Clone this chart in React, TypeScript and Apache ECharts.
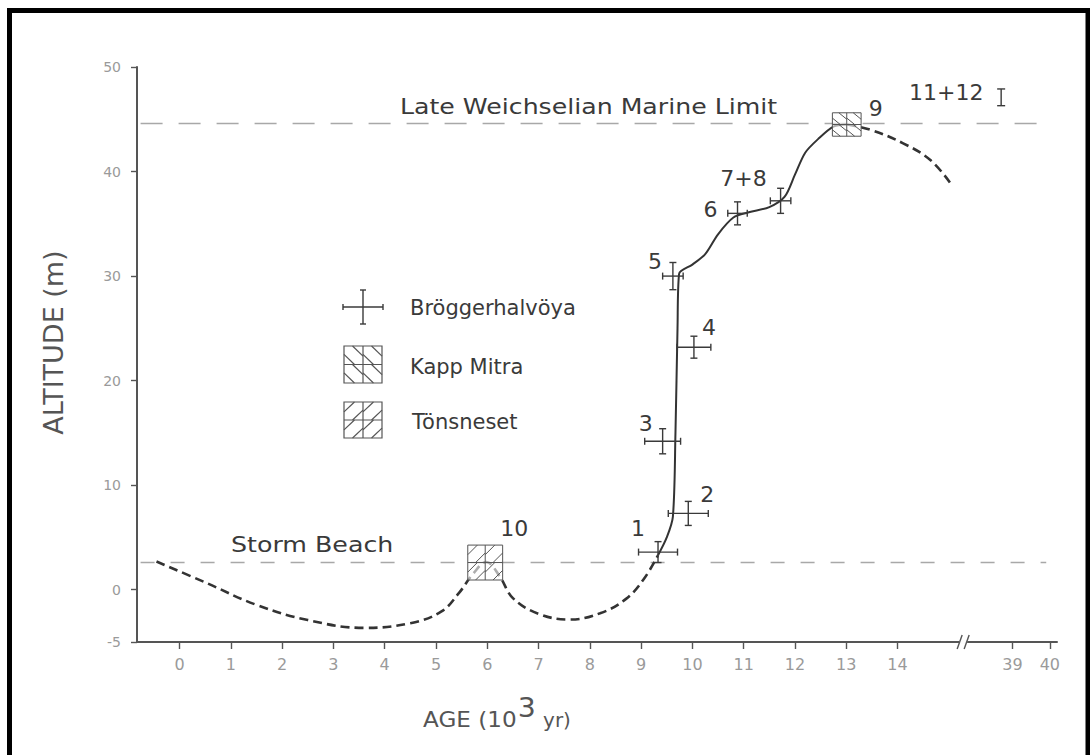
import React, { useEffect, useRef } from "react";
import * as echarts from "echarts";

// ---------- data ----------
const ageTicks = [0, 1, 2, 3, 4, 5, 6, 7, 8, 9, 10, 11, 12, 13, 14, 39, 40];
const altTicks = [-5, 0, 10, 20, 30, 40, 50];

// Bröggerhalvöya (crosses)
const brogLabels = ["1", "2", "3", "4", "5", "6", "7+8"];
const brogAge = [9.33, 9.92, 9.42, 10.03, 9.62, 10.88, 11.72];
const brogAlt = [3.6, 7.3, 14.2, 23.2, 30.0, 36.0, 37.2];
const brogAgeErr = [0.38, 0.39, 0.35, 0.33, 0.2, 0.19, 0.2];
const brogAltErr = [1.0, 1.15, 1.2, 1.05, 1.3, 1.1, 1.2];

// Kapp Mitra (hatched \)
const kappLabels = ["9"];
const kappAge = [13.01];
const kappAlt = [44.5];
const kappAgeErr = [0.28];
const kappAltErr = [1.12];

// Tönsneset (hatched /)
const tonsLabels = ["10"];
const tonsAge = [5.96];
const tonsAlt = [2.6];
const tonsAgeErr = [0.34];
const tonsAltErr = [1.67];

// old samples beyond the break
const oldLabels = ["11+12"];
const oldAge = [38.7];
const oldAlt = [47.1];
const oldAltErr = [0.8];

const stormBeachAlt = 2.6;
const marineLimitAlt = 44.6;

// sea-level curve
const curveDashLeftAge = [-0.45, 0.5, 1.5, 2.5, 3.6, 4.5, 5.1, 5.45, 5.72, 5.98, 6.24, 6.5, 7.0, 7.6, 8.2, 8.7, 9.05, 9.33];
const curveDashLeftAlt = [2.7, 0.7, -1.45, -2.9, -3.65, -3.2, -2.1, -0.3, 1.5, 2.65, 1.3, -0.8, -2.3, -2.85, -2.25, -0.9, 1.0, 3.3];
const curveSolidAge = [9.33, 9.5, 9.62, 9.67, 9.71, 9.74, 10.0, 10.25, 10.5, 10.8, 11.1, 11.5, 11.8, 12.0, 12.2, 12.45, 12.75, 13.02];
const curveSolidAlt = [3.3, 5.0, 7.0, 15, 25, 30.2, 31.1, 32.1, 34.0, 35.6, 36.1, 36.6, 37.6, 39.7, 41.8, 43.1, 44.3, 44.5];
const curveDashRightAge = [13.02, 13.47, 14.11, 14.64, 15.03];
const curveDashRightAlt = [44.5, 44.0, 42.7, 41.1, 38.9];

// ---------- layout helpers (broken axis) ----------
const AXIS_MIN = -0.83;
const AXIS_MAX = 17.11;
const BREAK_POS = 15.28;
const LINE_START = -0.76;
const LINE_END = 16.9;
const toAxis = (age: number) => (age <= 30 ? age : 16.24 + (age - 39) * 0.73);

const brogLabelOffset = [[-20, -24], [19, -19], [-17, -18], [15, -20], [-18, -15], [-27, -4], [-37, -22]];
const kappLabelOffset = [[29, -16]];
const tonsLabelOffset = [[29, -34]];
const oldLabelOffset = [[-55, -5]];

const FONT = "DejaVu Sans";
const INK = "#3a3a3a";
const GREY = "#9a9a9a";

const pair = (xs: number[], ys: number[]) => xs.map((x, i) => [toAxis(x), ys[i]]);

function labelText(x: number, y: number, text: string, size = 22) {
  return {
    type: "text",
    x,
    y,
    style: {
      text,
      fill: INK,
      fontSize: size,
      fontFamily: FONT,
      align: "center",
      verticalAlign: "middle",
      textAlign: "center",
      textVerticalAlign: "middle",
    },
  };
}

function crossRender(labels: string[], offsets: number[][]) {
  return (params: any, api: any) => {
    const a = api.value(0), h = api.value(1), ea = api.value(2), eh = api.value(3), i = api.value(4);
    const c = api.coord([a, h]);
    const l = api.coord([a - ea, h]);
    const r = api.coord([a + ea, h]);
    const t = api.coord([a, h + eh]);
    const b = api.coord([a, h - eh]);
    const cap = 3.5;
    const style = { stroke: INK, lineWidth: 1.4 };
    const ln = (x1: number, y1: number, x2: number, y2: number) => ({ type: "line", shape: { x1, y1, x2, y2 }, style });
    return {
      type: "group",
      children: [
        ln(l[0], c[1], r[0], c[1]),
        ln(c[0], t[1], c[0], b[1]),
        ln(l[0], c[1] - cap, l[0], c[1] + cap),
        ln(r[0], c[1] - cap, r[0], c[1] + cap),
        ln(c[0] - cap, t[1], c[0] + cap, t[1]),
        ln(c[0] - cap, b[1], c[0] + cap, b[1]),
        labelText(c[0] + offsets[i][0], c[1] + offsets[i][1], labels[i]),
      ],
    };
  };
}

function hatchBox(x0: number, y0: number, x1: number, y1: number, back: boolean, lw = 1) {
  const style = { stroke: "#555", lineWidth: lw };
  const w = x1 - x0, h = y1 - y0;
  const mx = x0 + w / 2, my = y0 + h / 2;
  const children: any[] = [
    { type: "rect", shape: { x: x0, y: y0, width: w, height: h }, style: { fill: "rgba(255,255,255,0.6)", stroke: "#555", lineWidth: lw } },
    { type: "line", shape: { x1: mx, y1: y0, x2: mx, y2: y1 }, style },
    { type: "line", shape: { x1: x0, y1: my, x2: x1, y2: my }, style },
  ];
  const qw = w / 2, qh = h / 2;
  for (const qx of [x0, mx]) {
    for (const qy of [y0, my]) {
      const segs = [
        [0, 0.45, 0.55, 1],
        [0.45, 0, 1, 0.55],
      ];
      for (const s of segs) {
        let [ux1, uy1, ux2, uy2] = s;
        if (!back) {
          uy1 = 1 - uy1;
          uy2 = 1 - uy2;
        }
        children.push({
          type: "line",
          shape: { x1: qx + ux1 * qw, y1: qy + uy1 * qh, x2: qx + ux2 * qw, y2: qy + uy2 * qh },
          style,
        });
      }
    }
  }
  return children;
}

function boxRender(labels: string[], offsets: number[][], back: boolean) {
  return (params: any, api: any) => {
    const a = api.value(0), h = api.value(1), ea = api.value(2), eh = api.value(3), i = api.value(4);
    const c = api.coord([a, h]);
    const tl = api.coord([a - ea, h + eh]);
    const br = api.coord([a + ea, h - eh]);
    return {
      type: "group",
      children: [
        ...hatchBox(tl[0], tl[1], br[0], br[1], back),
        labelText(c[0] + offsets[i][0], c[1] + offsets[i][1], labels[i]),
      ],
    };
  };
}

function iBarRender(labels: string[], offsets: number[][]) {
  return (params: any, api: any) => {
    const a = api.value(0), h = api.value(1), eh = api.value(2), i = api.value(3);
    const c = api.coord([a, h]);
    const t = api.coord([a, h + eh]);
    const b = api.coord([a, h - eh]);
    const style = { stroke: INK, lineWidth: 1.4 };
    const cap = 4;
    return {
      type: "group",
      children: [
        { type: "line", shape: { x1: c[0], y1: t[1], x2: c[0], y2: b[1] }, style },
        { type: "line", shape: { x1: c[0] - cap, y1: t[1], x2: c[0] + cap, y2: t[1] }, style },
        { type: "line", shape: { x1: c[0] - cap, y1: b[1], x2: c[0] + cap, y2: b[1] }, style },
        labelText(c[0] + offsets[i][0], c[1] + offsets[i][1], labels[i]),
      ],
    };
  };
}

function breakRender(params: any, api: any) {
  const p = api.coord([api.value(0), api.value(1)]);
  const style = { stroke: "#555", lineWidth: 1.4 };
  return {
    type: "group",
    children: [
      { type: "rect", shape: { x: p[0] - 4, y: p[1] - 2, width: 8, height: 4 }, style: { fill: "#fbfbfb" } },
      { type: "line", shape: { x1: p[0] - 6, y1: p[1] + 7, x2: p[0] - 1, y2: p[1] - 7 }, style },
      { type: "line", shape: { x1: p[0] + 1, y1: p[1] + 7, x2: p[0] + 6, y2: p[1] - 7 }, style },
    ],
  };
}

function legendGraphics() {
  const style = { stroke: INK, lineWidth: 1.4 };
  const els: any[] = [];
  const cx = 363, cy = 307;
  els.push({ type: "line", shape: { x1: cx - 20, y1: cy, x2: cx + 20, y2: cy }, style });
  els.push({ type: "line", shape: { x1: cx, y1: cy - 17, x2: cx, y2: cy + 17 }, style });
  els.push({ type: "line", shape: { x1: cx - 20, y1: cy - 3, x2: cx - 20, y2: cy + 3 }, style });
  els.push({ type: "line", shape: { x1: cx + 20, y1: cy - 3, x2: cx + 20, y2: cy + 3 }, style });
  els.push({ type: "line", shape: { x1: cx - 3, y1: cy - 17, x2: cx + 3, y2: cy - 17 }, style });
  els.push({ type: "line", shape: { x1: cx - 3, y1: cy + 17, x2: cx + 3, y2: cy + 17 }, style });
  els.push(...hatchBox(344, 346, 382, 383, true, 1.2));
  els.push(...hatchBox(344, 402, 382, 438, false, 1.2));
  const txt = (x: number, y: number, text: string) => ({
    type: "text",
    x,
    y,
    style: { text, fill: INK, fontSize: 21, fontFamily: FONT, textVerticalAlign: "middle", verticalAlign: "middle" },
  });
  els.push(txt(410, 308, "Bröggerhalvöya"));
  els.push(txt(410, 367, "Kapp Mitra"));
  els.push(txt(412, 422, "Tönsneset"));
  return els;
}

export default function App() {
  const ref = useRef<HTMLDivElement>(null);
  useEffect(() => {
    document.body.style.margin = "0";
    const chart = echarts.init(ref.current!, null, { renderer: "svg" });
    const tickVals = ageTicks.map(toAxis);
    const option: any = {
      animation: false,
      backgroundColor: "#ffffff",
      grid: { left: 137, right: 33, top: 67, bottom: 113 },
      xAxis: {
        type: "value",
        min: AXIS_MIN,
        max: AXIS_MAX,
        splitLine: { show: false },
        axisLine: { show: true, onZero: false, lineStyle: { color: "#555", width: 2 } },
        axisTick: { show: true, customValues: tickVals, length: 7, lineStyle: { color: "#555", width: 1.4 } },
        axisLabel: {
          customValues: tickVals,
          margin: 14,
          color: GREY,
          fontSize: 16,
          fontFamily: FONT,
          formatter: (v: number) => {
            const k = tickVals.findIndex((t) => Math.abs(t - v) < 1e-6);
            return k >= 0 ? String(ageTicks[k]) : "";
          },
        },
      },
      yAxis: {
        type: "value",
        min: -5,
        max: 50,
        splitLine: { show: false },
        axisLine: { show: true, onZero: false, lineStyle: { color: "#555", width: 2 } },
        axisTick: { show: true, customValues: altTicks, length: 6, lineStyle: { color: "#555", width: 1.4 } },
        axisLabel: { customValues: altTicks, margin: 16, color: GREY, fontSize: 14, fontFamily: FONT },
        name: "ALTITUDE (m)",
        nameLocation: "middle",
        nameRotate: 90,
        nameGap: 70,
        nameTextStyle: { color: "#555", fontSize: 27, fontFamily: FONT, padding: [0, 0, 0, 24] },
      },
      graphic: [
        {
          type: "polyline",
          z: 100,
          shape: { points: [[9.5, 800], [9.5, 10.5], [1088, 10.5], [1088, 800]] },
          style: { stroke: "#000", lineWidth: 5, fill: null },
        },
        ...legendGraphics(),
        {
          type: "text",
          x: 400,
          y: 106,
          scaleX: 1.2,
          style: { text: "Late Weichselian Marine Limit", fill: INK, fontSize: 21, fontFamily: FONT, verticalAlign: "middle", textVerticalAlign: "middle" },
        },
        {
          type: "text",
          x: 231,
          y: 545,
          scaleX: 1.15,
          style: { text: "Storm Beach", fill: INK, fontSize: 22, fontFamily: FONT, verticalAlign: "middle", textVerticalAlign: "middle" },
        },
        {
          type: "text",
          x: 423,
          y: 712,
          scaleX: 1.05,
          style: {
            text: "{a|AGE (10}{s|3}{b| yr)}",
            fill: "#555",
            fontFamily: FONT,
            verticalAlign: "middle",
            textVerticalAlign: "middle",
            rich: {
              a: { fontSize: 22, fontFamily: FONT, fill: "#555", color: "#555", lineHeight: 36, verticalAlign: "bottom" },
              s: { fontSize: 27, fontFamily: FONT, fill: "#555", color: "#555", lineHeight: 36, verticalAlign: "top", padding: [0, 1, 0, 1] },
              b: { fontSize: 19, fontFamily: FONT, fill: "#555", color: "#555", lineHeight: 36, verticalAlign: "bottom" },
            },
          },
        },
      ],
      series: [
        {
          type: "line",
          data: [[LINE_START, stormBeachAlt], [LINE_END, stormBeachAlt]],
          showSymbol: false,
          lineStyle: { color: "#a8a8a8", width: 1.6, type: [14, 16] },
          silent: true,
        },
        {
          type: "line",
          data: [[LINE_START, marineLimitAlt], [LINE_END, marineLimitAlt]],
          showSymbol: false,
          lineStyle: { color: "#a8a8a8", width: 1.6, type: [22, 16] },
          silent: true,
        },
        {
          type: "line",
          data: pair(curveDashLeftAge, curveDashLeftAlt),
          showSymbol: false,
          smooth: 0.4,
          lineStyle: { color: "#333", width: 2.6, type: [9, 5] },
        },
        {
          type: "line",
          data: pair(curveSolidAge, curveSolidAlt),
          showSymbol: false,
          smooth: 0.3,
          lineStyle: { color: "#333", width: 2 },
        },
        {
          type: "line",
          data: pair(curveDashRightAge, curveDashRightAlt),
          showSymbol: false,
          smooth: 0.4,
          lineStyle: { color: "#333", width: 2.6, type: [9, 5] },
        },
        {
          type: "custom",
          clip: false,
          z: 5,
          encode: { x: 0, y: 1 },
          renderItem: crossRender(brogLabels, brogLabelOffset),
          data: brogAge.map((a, i) => [toAxis(a), brogAlt[i], brogAgeErr[i], brogAltErr[i], i]),
        },
        {
          type: "custom",
          clip: false,
          z: 5,
          encode: { x: 0, y: 1 },
          renderItem: boxRender(kappLabels, kappLabelOffset, true),
          data: kappAge.map((a, i) => [toAxis(a), kappAlt[i], kappAgeErr[i], kappAltErr[i], i]),
        },
        {
          type: "custom",
          clip: false,
          z: 5,
          encode: { x: 0, y: 1 },
          renderItem: boxRender(tonsLabels, tonsLabelOffset, false),
          data: tonsAge.map((a, i) => [toAxis(a), tonsAlt[i], tonsAgeErr[i], tonsAltErr[i], i]),
        },
        {
          type: "custom",
          clip: false,
          z: 5,
          encode: { x: 0, y: 1 },
          renderItem: iBarRender(oldLabels, oldLabelOffset),
          data: oldAge.map((a, i) => [toAxis(a), oldAlt[i], oldAltErr[i], i]),
        },
        {
          type: "custom",
          clip: false,
          z: 10,
          encode: { x: 0, y: 1 },
          renderItem: breakRender,
          data: [[BREAK_POS, -5]],
        },
      ],
    };
    chart.setOption(option);
    return () => chart.dispose();
  }, []);
  return <div ref={ref} style={{ width: 1090, height: 755, background: "#fbfbfb" }} />;
}
